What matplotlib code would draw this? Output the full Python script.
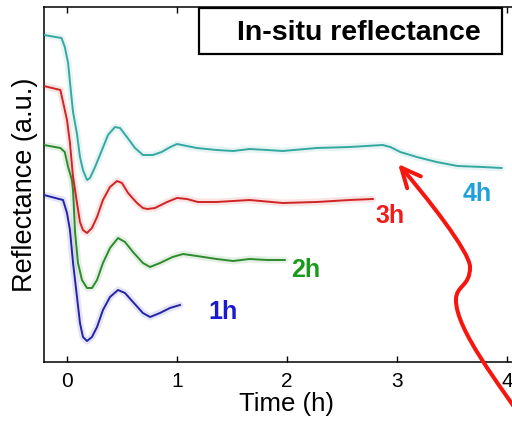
import matplotlib
matplotlib.use("Agg")
import matplotlib.pyplot as plt
from matplotlib.path import Path
from matplotlib.patches import FancyArrowPatch, Rectangle

plt.rcParams['font.family'] = ['Liberation Sans', 'DejaVu Sans']

# In-situ reflectance traces (time in hours, reflectance in a.u., curves offset vertically)
t_1h = [-0.21, -0.036, 0.0, 0.027, 0.055, 0.091, 0.118, 0.145, 0.182, 0.227, 0.273,
        0.327, 0.391, 0.464, 0.527, 0.60, 0.69, 0.755, 0.845, 0.936, 1.027]
r_1h = [16.7, 16.2, 14.9, 13.2, 9.9, 6.5, 3.9, 2.5, 2.1, 2.5, 3.5,
        5.2, 6.5, 7.2, 6.9, 6.0, 4.9, 4.5, 4.9, 5.4, 5.7]

t_2h = [-0.21, -0.06, -0.02, 0.01, 0.045, 0.055, 0.073, 0.10, 0.136, 0.182, 0.227,
        0.273, 0.327, 0.391, 0.464, 0.527, 0.60, 0.69, 0.755, 0.845, 0.96, 1.055,
        1.18, 1.36, 1.51, 1.66, 1.82, 1.98]
r_2h = [21.7, 21.4, 21.0, 19.5, 18.2, 17.2, 13.0, 9.9, 8.2, 7.4, 7.4,
        8.2, 9.9, 11.4, 12.4, 12.0, 11.0, 9.9, 9.5, 9.9, 10.5, 10.8,
        10.6, 10.3, 10.1, 10.3, 10.2, 10.2]

t_3h = [-0.21, -0.06, -0.04, 0.0, 0.027, 0.055, 0.091, 0.118, 0.145, 0.182, 0.227,
        0.273, 0.327, 0.391, 0.455, 0.50, 0.555, 0.636, 0.69, 0.73, 0.80, 0.91,
        1.0, 1.09, 1.19, 1.36, 1.66, 1.96, 2.27, 2.57, 2.78]
r_3h = [27.6, 27.2, 26.2, 24.2, 21.9, 18.5, 15.9, 14.0, 13.2, 12.9, 13.4,
        14.5, 16.2, 17.5, 18.1, 17.9, 16.9, 15.9, 15.4, 15.3, 15.4, 16.0,
        16.4, 16.3, 16.0, 16.0, 16.2, 15.9, 16.0, 16.2, 16.3]

t_4h = [-0.21, -0.05, -0.02, 0.01, 0.036, 0.055, 0.091, 0.118, 0.145, 0.182, 0.209,
        0.255, 0.318, 0.373, 0.436, 0.482, 0.545, 0.618, 0.691, 0.78, 0.86, 0.94,
        1.0, 1.09, 1.18, 1.36, 1.51, 1.66, 1.82, 1.96, 2.27, 2.57, 2.87, 2.94,
        3.03, 3.18, 3.36, 3.55, 3.78, 3.95]
r_4h = [32.7, 32.4, 31.5, 29.9, 27.0, 25.0, 22.8, 20.5, 19.2, 18.2, 18.4,
        19.5, 21.2, 22.7, 23.5, 23.4, 22.5, 21.4, 20.7, 20.7, 21.0, 21.5,
        21.8, 21.6, 21.4, 21.2, 21.1, 21.3, 21.2, 21.1, 21.4, 21.5, 21.7, 21.5,
        21.0, 20.5, 20.0, 19.6, 19.5, 19.4]

series = [
    ("1h", t_1h, r_1h, "#2323a8", "#1a1ad0", (1.42, 5.0)),
    ("2h", t_2h, r_2h, "#2e8a2e", "#1a9a1a", (2.17, 9.2)),
    ("3h", t_3h, r_3h, "#d02424", "#f01c1c", (2.94, 14.6)),
    ("4h", t_4h, r_4h, "#35a8a2", "#1ea0d8", (3.73, 16.8)),
]
x_ticks = [0, 1, 2, 3, 4]

fig = plt.figure(figsize=(5.12, 4.23), dpi=100)
ax = fig.add_axes([44 / 512, 61 / 423, 485 / 512, 355 / 423])

for name, t, r, lc, tc, (lx, ly) in series:
    ax.plot(t, r, color=lc, lw=5, alpha=0.12, solid_capstyle='round',
            solid_joinstyle='round', zorder=2)
    ax.plot(t, r, color=lc, lw=1.4, solid_joinstyle='round', zorder=3)
    ax.text(lx, ly, name, color=tc, fontsize=18, fontweight='bold',
            ha='center', va='center', zorder=4)

ax.set_xlim(-0.209, 4.2)
ax.set_ylim(0, 35.5)
ax.set_xticks(x_ticks)
ax.set_yticks([])
ax.tick_params(axis='x', direction='in', top=True, length=4, width=1,
               labelsize=15, pad=7)
for s in ax.spines.values():
    s.set_linewidth(1.1)
ax.set_xlabel("Time (h)", fontsize=18.5, labelpad=1)
ax.set_ylabel("Reflectance (a.u.)", fontsize=19.5, labelpad=4)

# Title box
ax.add_patch(Rectangle((1.2, 30.8), 2.755, 4.6, facecolor='white',
                       edgecolor='black', lw=1.6, zorder=5))
ax.text(2.655, 32.85, "In-situ reflectance", fontsize=20.5, fontweight='bold',
        ha='center', va='center', zorder=6)

# Hand-drawn red arrow pointing at the 4h trace
verts = [(4.164, -6.1), (3.936, -2.3), (3.536, 3.2), (3.536, 6.2),
         (3.536, 7.7), (3.664, 7.5), (3.664, 9.5),
         (3.664, 11.0), (3.255, 16.7), (3.01, 19.8)]
codes = [Path.MOVETO] + [Path.CURVE4] * 9
arrow = FancyArrowPatch(path=Path(verts, codes),
                        arrowstyle='->,head_length=1.4,head_width=0.65',
                        mutation_scale=10, color='#f5170f', lw=2.9,
                        shrinkA=0, shrinkB=0, transform=ax.transData,
                        clip_on=False, zorder=7, capstyle='round', joinstyle='round')
ax.add_patch(arrow)

fig.savefig("out.png", dpi=100)
